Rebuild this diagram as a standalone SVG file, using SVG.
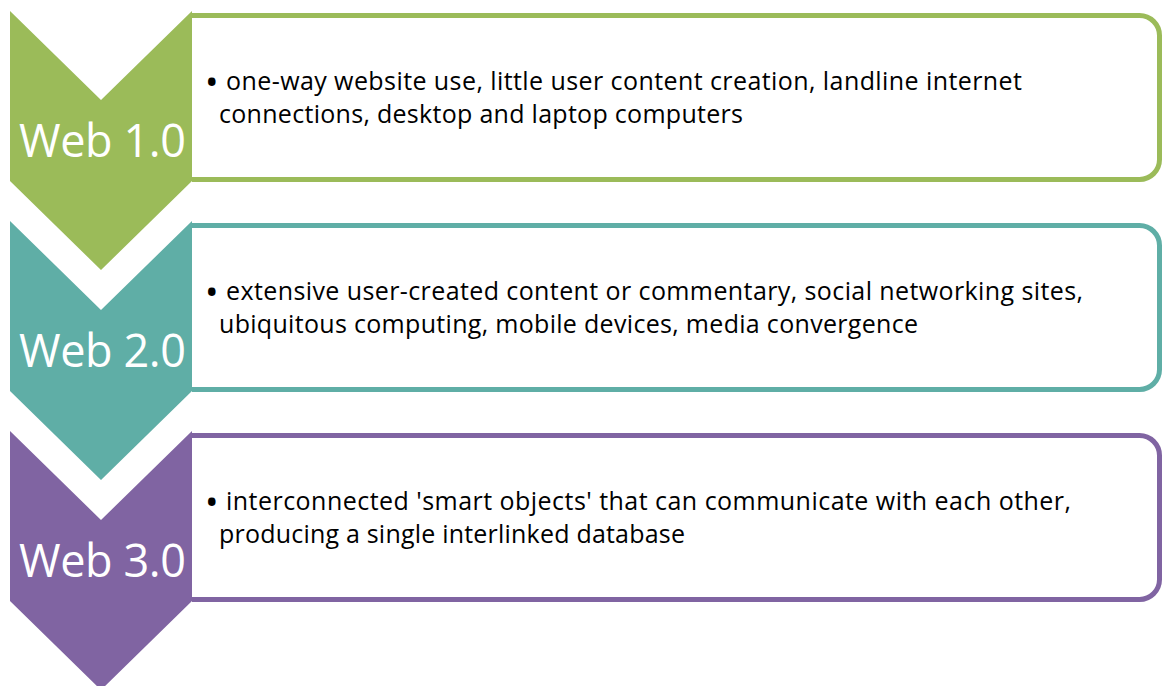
<svg xmlns="http://www.w3.org/2000/svg" width="1162" height="686" viewBox="0 0 1162 686">
  <style>
    .label { font-family: "Open Sans", "Liberation Sans", sans-serif; font-size: 45px; fill: #ffffff; }
    .body { font-family: "Open Sans", "Liberation Sans", sans-serif; font-size: 25px; fill: #000000; }
    .dot { font-family: "Open Sans", "Liberation Sans", sans-serif; font-size: 36px; fill: #000000; }
    .box { fill: #ffffff; stroke-width: 5; }
    .green { fill: #9BBB59; }
    .teal { fill: #5FAEA6; }
    .purple { fill: #8064A2; }
  </style>
  <defs>
    <!-- chevron pointing down, origin at top-left corner -->
    <path id="chev" d="M0,0 L91,89 L182,0 L182,170 L91,259 L0,170 Z"/>
    <!-- text panel, left edge hidden behind the chevron -->
    <path id="panel" d="M192,15.5 H1139.5 A20,20 0 0 1 1159.5,35.5 V159.5 A20,20 0 0 1 1139.5,179.5 H192"/>
  </defs>

  <g id="web1">
    <use href="#panel" class="box" stroke="#9BBB59"/>
    <use href="#chev" x="10" y="11" class="green"/>
    <text class="label" x="19" y="157" textLength="167">Web 1.0</text>
    <text class="dot" x="205" y="95">•</text>
    <text class="body" x="226" y="90" textLength="796">one-way website use, little user content creation, landline internet</text>
    <text class="body" x="219" y="123" textLength="524">connections, desktop and laptop computers</text>
  </g>

  <g id="web2">
    <use href="#panel" y="210" class="box" stroke="#5FAEA6"/>
    <use href="#chev" x="10" y="221" class="teal"/>
    <text class="label" x="19" y="367" textLength="167">Web 2.0</text>
    <text class="dot" x="205" y="305">•</text>
    <text class="body" x="226" y="300" textLength="857">extensive user-created content or commentary, social networking sites,</text>
    <text class="body" x="219" y="333" textLength="699">ubiquitous computing, mobile devices, media convergence</text>
  </g>

  <g id="web3">
    <use href="#panel" y="420" class="box" stroke="#8064A2"/>
    <use href="#chev" x="10" y="431" class="purple"/>
    <text class="label" x="19" y="577" textLength="167">Web 3.0</text>
    <text class="dot" x="205" y="515">•</text>
    <text class="body" x="226" y="510" textLength="845">interconnected 'smart objects' that can communicate with each other,</text>
    <text class="body" x="219" y="543" textLength="466">producing a single interlinked database</text>
  </g>

  <g id="connectors"></g>
</svg>
